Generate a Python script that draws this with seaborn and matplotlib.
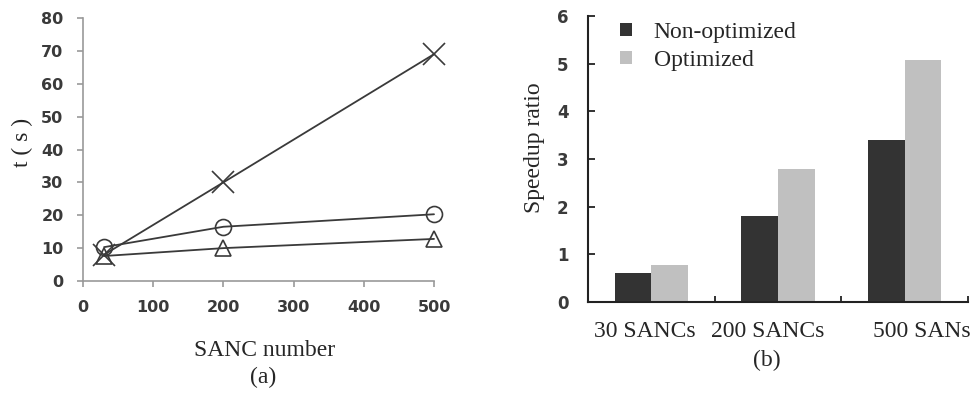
import numpy as np
import pandas as pd
import matplotlib
matplotlib.use("Agg")
import matplotlib.pyplot as plt
import matplotlib.transforms as mtransforms
import seaborn as sns

# ---- data (a): time vs SANC number ----
sanc_number = [30, 200, 500]
t_cross = [8.0, 30.0, 69.0]
t_circle = [10.3, 16.5, 20.3]
t_triangle = [7.6, 10.0, 12.8]

# ---- data (b): speedup ratio ----
categories = ["30 SANCs", "200 SANCs", "500 SANs"]
non_optimized = [0.6, 1.8, 3.4]
optimized = [0.78, 2.8, 5.08]
series_names = ["Non-optimized", "Optimized"]

sns.set_theme(style="white")
plt.rcParams["font.family"] = ["DejaVu Sans"]
SERIF = "Liberation Serif"
FS = 17

fig = plt.figure(figsize=(9.72, 3.94), dpi=100)

# ---------------- panel (a) ----------------
axa = fig.add_axes([83 / 972, 1 - 281 / 394, 351 / 972, 263 / 394])
line_col = "#3a3a3a"
for yvals, mk, ms in [(t_cross, "x", 16), (t_circle, "o", 11.5), (t_triangle, "^", 12)]:
    sns.lineplot(x=sanc_number, y=yvals, ax=axa, color=line_col, linewidth=1.3,
                 marker=mk, markersize=ms, markerfacecolor="none",
                 markeredgecolor=line_col, markeredgewidth=1.2, clip_on=False)
axa.set_xlim(0, 500)
axa.set_ylim(0, 80)
axa.set_xticks(np.arange(0, 501, 100))
axa.set_yticks(np.arange(0, 81, 10))
for s in ["top", "right"]:
    axa.spines[s].set_visible(False)
for s in ["left", "bottom"]:
    axa.spines[s].set_color("#999999")
    axa.spines[s].set_linewidth(1.2)
axa.tick_params(axis="both", direction="out", length=4, width=1.2, color="#999999",
                labelsize=11.5, labelcolor="#3a3a3a", pad=10, left=True, bottom=True)
for lab in axa.get_xticklabels() + axa.get_yticklabels():
    lab.set_fontweight("bold")
axa.set_xlabel("SANC number", fontsize=FS, family=SERIF)
axa.xaxis.set_label_coords(0.518, -0.224)
axa.set_ylabel("t ( s )", fontsize=FS, family=SERIF)
axa.yaxis.set_label_coords(-0.142, 0.525)
fig.text(263 / 972, 1 - 377 / 394, "(a)", fontsize=FS, family=SERIF, ha="center", va="center")

# ---------------- panel (b) ----------------
axb = fig.add_axes([588 / 972, 1 - 302 / 394, 380 / 972, 286 / 394])
df = pd.DataFrame({
    "cat": categories * 2,
    "series": [series_names[0]] * 3 + [series_names[1]] * 3,
    "val": non_optimized + optimized,
})
sns.barplot(data=df, x="cat", y="val", hue="series", order=categories,
            hue_order=series_names, palette=["#333333", "#c0c0c0"],
            width=0.58, gap=0, saturation=1, ax=axb, linewidth=0)
axb.set_xlim(-0.5, 2.5)
axb.set_ylim(0, 6)
axb.set_yticks(np.arange(0, 7, 1))
for s in ["top", "right"]:
    axb.spines[s].set_visible(False)
for s in ["left", "bottom"]:
    axb.spines[s].set_color("#222222")
    axb.spines[s].set_linewidth(1.5)
axb.tick_params(axis="y", direction="in", length=5, width=1.3, color="#222222",
                labelsize=12, labelcolor="#3a3a3a", pad=14, left=True)
for lab in axb.get_yticklabels():
    lab.set_fontweight("bold")
axb.tick_params(axis="x", length=0, pad=14, labelsize=FS)
for lab in axb.get_xticklabels():
    lab.set_family(SERIF)
axb.set_xticks([0.5, 1.5, 2.5], minor=True)
axb.tick_params(axis="x", which="minor", direction="in", length=4, width=1.3,
                color="#222222", bottom=True)
# slight horizontal offsets of category labels as in the original
for lab, dx in zip(axb.get_xticklabels(), [-7, -10, 17]):
    lab.set_transform(lab.get_transform() +
                      mtransforms.ScaledTranslation(dx / 100, 0, fig.dpi_scale_trans))
axb.set_xlabel("")
axb.set_ylabel("Speedup ratio", fontsize=FS, family=SERIF)
axb.yaxis.set_label_coords(-0.113, 0.538)
leg = axb.legend(loc="upper left", bbox_to_anchor=(0.084, 0.979), frameon=False,
                 prop={"family": SERIF, "size": FS}, handlelength=0.5, handleheight=0.5,
                 handletextpad=0.93, labelspacing=0.28, borderaxespad=0, borderpad=0)
fig.text(767 / 972, 1 - 360 / 394, "(b)", fontsize=FS, family=SERIF, ha="center", va="center")

fig.savefig("out.png", dpi=100)
